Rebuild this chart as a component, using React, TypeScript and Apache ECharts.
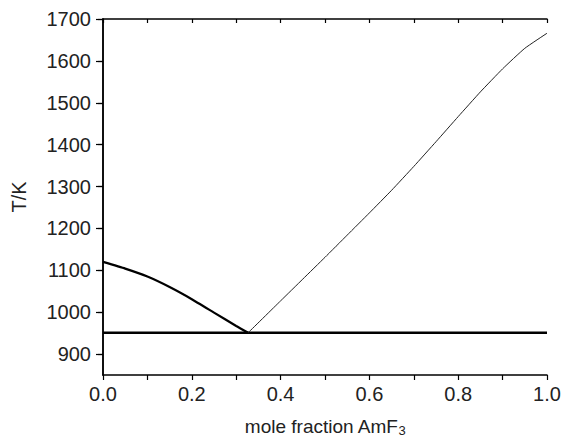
import React, { useEffect, useRef } from "react";
import * as echarts from "echarts";

// Liquidus (AmF3-poor side, thick line)
const leftLiquidusX = [0, 0.05, 0.1, 0.15, 0.2, 0.25, 0.3, 0.327];
const leftLiquidusT = [1120, 1104, 1085, 1060, 1031, 999, 967, 951];

// Liquidus (AmF3-rich side, thin line)
const rightLiquidusX = [0.327, 0.4, 0.45, 0.5, 0.55, 0.6, 0.65, 0.7, 0.75, 0.8, 0.85, 0.9, 0.95, 1.0];
const rightLiquidusT = [951, 1027, 1079, 1131, 1184, 1237, 1291, 1348, 1407, 1467, 1526, 1581, 1630, 1666];

// Eutectic horizontal
const eutecticX = [0, 1];
const eutecticT = [951, 951];

const xTicks = [0, 0.2, 0.4, 0.6, 0.8, 1.0];
const yTicks = [900, 1000, 1100, 1200, 1300, 1400, 1500, 1600, 1700];

const FONT = "'Liberation Sans', Arial, Helvetica, sans-serif";

function zip(xs: number[], ys: number[]) {
  return xs.map((x, i) => [x, ys[i]]);
}

export default function App() {
  const ref = useRef<HTMLDivElement>(null);

  useEffect(() => {
    if (!ref.current) return;
    const chart = echarts.init(ref.current, undefined, { renderer: "svg" });
    const axisLine = { show: true, lineStyle: { color: "#000", width: 1.5 } };
    chart.setOption({
      animation: false,
      backgroundColor: "#fff",
      grid: {
        left: 103,
        right: 19,
        top: 19,
        bottom: 63,
        containLabel: false,
        outerBoundsMode: "none",
      },
      xAxis: [
        {
          type: "value",
          position: "bottom",
          min: xTicks[0],
          max: xTicks[xTicks.length - 1],
          interval: 0.2,
          axisLine,
          axisTick: { show: true, inside: false, length: 5, lineStyle: { color: "#000", width: 1.2 } },
          minorTick: { show: true, splitNumber: 2, length: 5, lineStyle: { color: "#000", width: 1.2 } },
          splitLine: { show: false },
          axisLabel: {
            color: "#222",
            fontSize: 20,
            fontFamily: FONT,
            margin: 9,
            formatter: (v: number) => v.toFixed(1),
          },
          name: "{m|mole fraction AmF}{sub|3}",
          nameLocation: "middle",
          nameGap: 42,
          nameTextStyle: {
            color: "#222",
            fontSize: 19,
            fontFamily: FONT,
            rich: {
              m: { fontSize: 19, fontFamily: FONT, color: "#222", lineHeight: 20, verticalAlign: "top" },
              sub: {
                fontSize: 13,
                fontFamily: FONT,
                color: "#222",
                lineHeight: 13,
                padding: [8, 0, 0, 0],
                verticalAlign: "bottom",
              },
            },
          },
        },
        {
          type: "value",
          position: "top",
          min: 0,
          max: 1,
          interval: 0.2,
          axisLine,
          axisTick: { show: true, inside: true, length: 4, lineStyle: { color: "#000", width: 1.2 } },
          minorTick: { show: true, splitNumber: 2, length: 4, lineStyle: { color: "#000", width: 1.2 } },
          splitLine: { show: false },
          axisLabel: { show: false },
        },
      ],
      yAxis: [
        {
          type: "value",
          position: "left",
          min: 850,
          max: 1700,
          axisLine,
          axisTick: {
            show: true,
            inside: false,
            length: 7,
            customValues: yTicks,
            lineStyle: { color: "#000", width: 1.2 },
          },
          splitLine: { show: false },
          axisLabel: {
            color: "#222",
            fontSize: 20,
            fontFamily: FONT,
            margin: 12,
            customValues: yTicks,
            formatter: (v: number) => String(v),
          },
          name: "T/K",
          nameLocation: "middle",
          nameGap: 74,
          nameTextStyle: { color: "#222", fontSize: 20, fontFamily: FONT },
        },
        {
          type: "value",
          position: "right",
          min: 850,
          max: 1700,
          axisLine,
          axisTick: {
            show: true,
            inside: true,
            length: 5,
            customValues: yTicks,
            lineStyle: { color: "#000", width: 1.2 },
          },
          splitLine: { show: false },
          axisLabel: { show: false },
        },
      ],
      series: [
        {
          type: "line",
          data: zip(eutecticX, eutecticT),
          showSymbol: false,
          lineStyle: { color: "#000", width: 2.5 },
          z: 3,
        },
        {
          type: "line",
          data: zip(leftLiquidusX, leftLiquidusT),
          showSymbol: false,
          smooth: 0.15,
          lineStyle: { color: "#000", width: 2.2 },
          z: 3,
        },
        {
          type: "line",
          data: zip(rightLiquidusX, rightLiquidusT),
          showSymbol: false,
          smooth: 0.15,
          lineStyle: { color: "#222", width: 1 },
          z: 3,
        },
      ],
    });
    return () => chart.dispose();
  }, []);

  return (
    <div
      ref={ref}
      style={{ position: "fixed", left: 0, top: 0, width: 566, height: 438, background: "#fff" }}
    />
  );
}
